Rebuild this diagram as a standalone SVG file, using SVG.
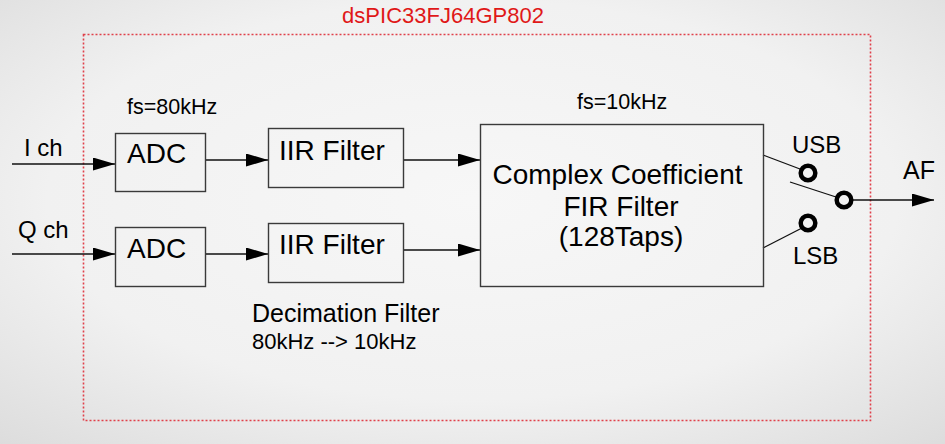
<svg xmlns="http://www.w3.org/2000/svg" width="945" height="444" viewBox="0 0 945 444">
<defs>
<radialGradient id="bg" cx="50%" cy="45%" r="75%">
<stop offset="0" stop-color="#f7f7f7"/>
<stop offset="0.6" stop-color="#f1f1f1"/>
<stop offset="1" stop-color="#dcdcdc"/>
</radialGradient>
<marker id="ah" markerWidth="22" markerHeight="13" refX="22" refY="6.5" orient="auto" markerUnits="userSpaceOnUse">
<path d="M0,0 L22,6.5 L0,13 Z" fill="#000"/>
</marker>
<style>
.t{font-family:"Liberation Sans",Arial,sans-serif;fill:#000}
.box{fill:none;stroke:#3a3a3a;stroke-width:1.4}
.ln{stroke:#111;stroke-width:1.3;fill:none}
.ar{stroke:#111;stroke-width:1.3;fill:none;marker-end:url(#ah)}
.sw{fill:none;stroke:#000;stroke-width:4.5}
</style>
</defs>
<rect width="945" height="444" fill="url(#bg)"/>
<g id="chip">
<rect x="83.5" y="34.5" width="787" height="386" fill="none" stroke="#e0404a" stroke-width="1.6" stroke-dasharray="2 2"/>
<text class="t" x="443" y="23" font-size="22" text-anchor="middle" style="fill:#e01818">dsPIC33FJ64GP802</text>
</g>
<g id="connectors">
<line class="ar" x1="12" y1="164" x2="115" y2="164"/>
<line class="ar" x1="205" y1="160" x2="268" y2="160"/>
<line class="ar" x1="403" y1="160" x2="480" y2="160"/>
<line class="ar" x1="12" y1="254" x2="115" y2="254"/>
<line class="ar" x1="205" y1="254" x2="268" y2="254"/>
<line class="ar" x1="403" y1="250" x2="480" y2="250"/>
<line class="ln" x1="763" y1="155" x2="800" y2="169"/>
<line class="ln" x1="763" y1="248" x2="802" y2="228"/>
<line class="ln" x1="790" y1="182" x2="836" y2="197"/>
<line class="ar" x1="852" y1="200" x2="934" y2="200"/>
</g>
<g id="label-ich"><text class="t" x="24" y="156" font-size="24">I ch</text></g>
<g id="label-qch"><text class="t" x="18" y="238" font-size="24">Q ch</text></g>
<g id="fs80"><text class="t" x="127" y="114" font-size="21.5">fs=80kHz</text></g>
<g id="fs10"><text class="t" x="577" y="109" font-size="21.5">fs=10kHz</text></g>
<g id="adc-i">
<rect class="box" x="115.5" y="133.5" width="90" height="58"/>
<text class="t" x="127" y="163" font-size="28">ADC</text>
</g>
<g id="adc-q">
<rect class="box" x="115.5" y="227.5" width="90" height="59"/>
<text class="t" x="127" y="258" font-size="28">ADC</text>
</g>
<g id="iir-i">
<rect class="box" x="268.5" y="128.5" width="135" height="59"/>
<text class="t" x="279" y="160" font-size="28">IIR Filter</text>
</g>
<g id="iir-q">
<rect class="box" x="268.5" y="223.5" width="135" height="59"/>
<text class="t" x="279" y="254" font-size="28">IIR Filter</text>
</g>
<g id="fir">
<rect class="box" x="480.5" y="124.5" width="283" height="162"/>
<text class="t" x="617.5" y="184" font-size="28" text-anchor="middle">Complex Coefficient</text>
<text class="t" x="621" y="216" font-size="28" text-anchor="middle">FIR Filter</text>
<text class="t" x="621" y="246" font-size="28" text-anchor="middle">(128Taps)</text>
</g>
<g id="decim">
<text class="t" x="252" y="322" font-size="25">Decimation Filter</text>
<text class="t" x="252" y="349" font-size="22">80kHz --&gt; 10kHz</text>
</g>
<g id="switch">
<circle class="sw" cx="808" cy="173" r="7.3"/>
<circle class="sw" cx="844" cy="200" r="7.3"/>
<circle class="sw" cx="808" cy="223" r="7.3"/>
<text class="t" x="792" y="153" font-size="24">USB</text>
<text class="t" x="793" y="264" font-size="24">LSB</text>
<text class="t" x="903" y="179" font-size="25">AF</text>
</g>
</svg>
